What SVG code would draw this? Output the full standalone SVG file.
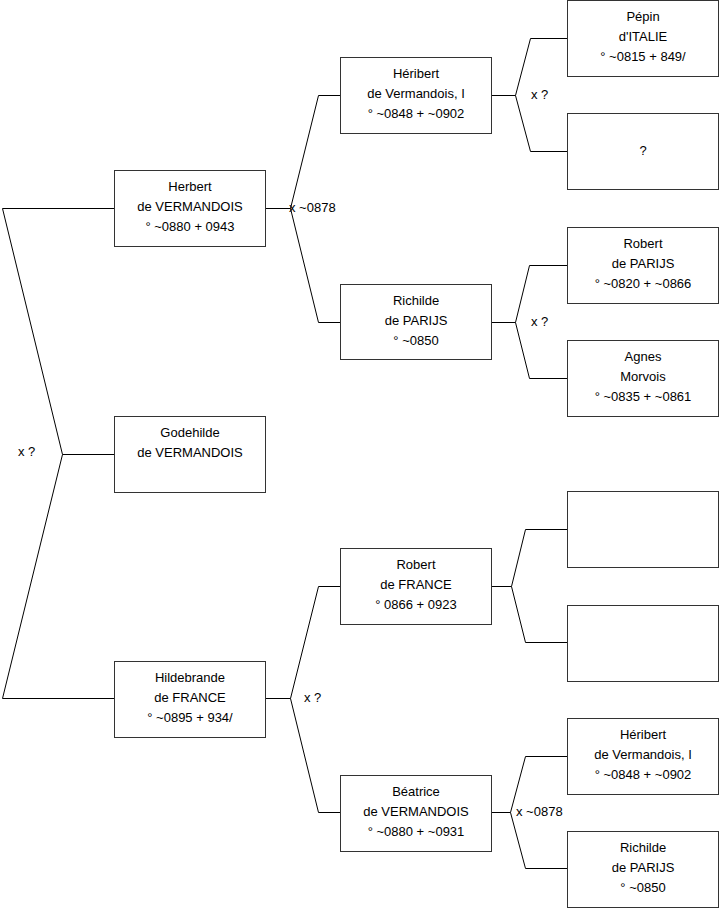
<svg xmlns="http://www.w3.org/2000/svg" width="719" height="908" viewBox="0 0 719 908">
<style>
.box rect{fill:#fff;stroke:#333;stroke-width:1}
text{font-family:"Liberation Sans",Arial,sans-serif;font-size:13px;fill:#000}
.box text{text-anchor:middle}
#connectors path{fill:none;stroke:#000;stroke-width:1}
</style>
<rect width="719" height="908" fill="#fff"/>
<g id="connectors">
<path d="M114.5,208.5H2.5L62.5,454.5L2.5,698.5H114.5M62.5,454.5H114.5"/>
<path d="M265.5,208.5H290.5M340.5,95.5H318.5L290.5,208.5L318.5,322.5H340.5"/>
<path d="M491.5,95.5H515.5M567.5,38.5H530.5L515.5,95.5L530.5,151.5H567.5"/>
<path d="M491.5,322.5H515.5M567.5,265.5H529.5L515.5,322.5L529.5,378.5H567.5"/>
<path d="M265.5,698.5H290.5M340.5,586.5H318.5L290.5,698.5L318.5,812.5H340.5"/>
<path d="M491.5,586.5H511.5M567.5,529.5H525.5L511.5,586.5L525.5,642.5H567.5"/>
<path d="M491.5,812.5H510.5M567.5,756.5H525.5L510.5,812.5L525.5,868.5H567.5"/>
<text x="18" y="456">x ?</text>
<text x="289" y="212">x ~0878</text>
<text x="531" y="99">x ?</text>
<text x="531" y="326">x ?</text>
<text x="304" y="702">x ?</text>
<text x="516" y="816">x ~0878</text>
</g>
<g id="herbert" class="box"><rect x="114.5" y="170.5" width="151" height="76"/><text x="190" y="191">Herbert</text><text x="190" y="211">de VERMANDOIS</text><text x="190" y="231">° ~0880 + 0943</text></g>
<g id="godehilde" class="box"><rect x="114.5" y="416.5" width="151" height="76"/><text x="190" y="437">Godehilde</text><text x="190" y="457">de VERMANDOIS</text></g>
<g id="hildebrande" class="box"><rect x="114.5" y="661.5" width="151" height="76"/><text x="190" y="682">Hildebrande</text><text x="190" y="702">de FRANCE</text><text x="190" y="722">° ~0895 + 934/</text></g>
<g id="heribert1" class="box"><rect x="340.5" y="57.5" width="151" height="76"/><text x="416" y="78">Héribert</text><text x="416" y="98">de Vermandois, I</text><text x="416" y="118">° ~0848 + ~0902</text></g>
<g id="richilde1" class="box"><rect x="340.5" y="284.5" width="151" height="75"/><text x="416" y="305">Richilde</text><text x="416" y="325">de PARIJS</text><text x="416" y="345">° ~0850</text></g>
<g id="robertfrance" class="box"><rect x="340.5" y="548.5" width="151" height="76"/><text x="416" y="569">Robert</text><text x="416" y="589">de FRANCE</text><text x="416" y="609">° 0866 + 0923</text></g>
<g id="beatrice" class="box"><rect x="340.5" y="775.5" width="151" height="76"/><text x="416" y="796">Béatrice</text><text x="416" y="816">de VERMANDOIS</text><text x="416" y="836">° ~0880 + ~0931</text></g>
<g id="pepin" class="box"><rect x="567.5" y="0.5" width="151" height="76"/><text x="643" y="21">Pépin</text><text x="643" y="41">d'ITALIE</text><text x="643" y="61">° ~0815 + 849/</text></g>
<g id="unknown" class="box"><rect x="567.5" y="113.5" width="151" height="76"/><text x="643" y="155">?</text></g>
<g id="robertparijs" class="box"><rect x="567.5" y="227.5" width="151" height="76"/><text x="643" y="248">Robert</text><text x="643" y="268">de PARIJS</text><text x="643" y="288">° ~0820 + ~0866</text></g>
<g id="agnes" class="box"><rect x="567.5" y="340.5" width="151" height="76"/><text x="643" y="361">Agnes</text><text x="643" y="381">Morvois</text><text x="643" y="401">° ~0835 + ~0861</text></g>
<g id="empty1" class="box"><rect x="567.5" y="491.5" width="151" height="76"/></g>
<g id="empty2" class="box"><rect x="567.5" y="605.5" width="151" height="76"/></g>
<g id="heribert2" class="box"><rect x="567.5" y="718.5" width="151" height="76"/><text x="643" y="739">Héribert</text><text x="643" y="759">de Vermandois, I</text><text x="643" y="779">° ~0848 + ~0902</text></g>
<g id="richilde2" class="box"><rect x="567.5" y="831.5" width="151" height="76"/><text x="643" y="852">Richilde</text><text x="643" y="872">de PARIJS</text><text x="643" y="892">° ~0850</text></g>
</svg>
